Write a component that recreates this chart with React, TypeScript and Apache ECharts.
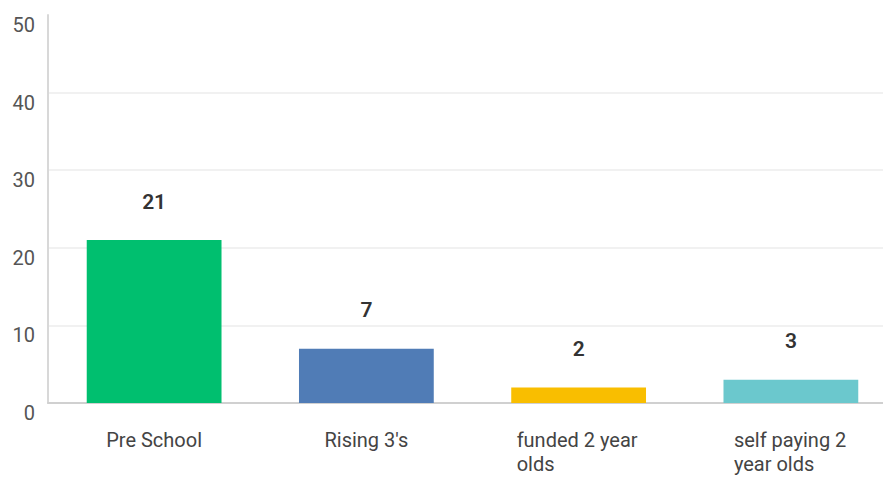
import React, { useEffect, useRef } from "react";
import * as echarts from "echarts";

const categories = ["Pre School", "Rising 3's", "funded 2 year olds", "self paying 2 year olds"];
const values = [21, 7, 2, 3];
const colors = ["#00BF6F", "#507CB6", "#F9BE00", "#6BC8CD"];
const yTicks = [0, 10, 20, 30, 40, 50];

export default function App() {
  const ref = useRef<HTMLDivElement>(null);
  useEffect(() => {
    const chart = echarts.init(ref.current!, null, { renderer: "svg" });
    const font = "Roboto, 'Noto Sans', sans-serif";
    chart.setOption({
      animation: false,
      grid: { left: 48, right: -14, top: 15, bottom: 74, outerBoundsMode: "none", containLabel: false },
      xAxis: {
        type: "category",
        data: categories,
        axisLine: { show: true, lineStyle: { color: "#d0d0d0", width: 2 } },
        axisTick: { show: false },
        axisLabel: {
          margin: 25,
          color: "#444",
          fontFamily: font,
          fontSize: 20,
          lineHeight: 24,
          interval: 0,
          formatter: (v: string) => {
            if (v === "funded 2 year olds") return "{f|funded 2 year}\n{f|olds}";
            if (v === "self paying 2 year olds") return "{s|self paying 2}\n{s|year olds}";
            return v;
          },
          rich: {
            f: { width: 124, align: "left", fontSize: 20, lineHeight: 24, color: "#444", fontFamily: font },
            s: { width: 114, align: "left", fontSize: 20, lineHeight: 24, color: "#444", fontFamily: font },
          },
        },
      },
      yAxis: {
        type: "value",
        min: 0,
        max: 50,
        interval: 10,
        axisLine: { show: true, lineStyle: { color: "#d8d8d8", width: 2 } },
        axisTick: { show: false },
        splitLine: { show: true, showMaxLine: false, lineStyle: { color: "#ececec", width: 1.5 } },
        axisLabel: {
          margin: 13,
          color: "#555",
          fontFamily: font,
          fontSize: 20,
          verticalAlign: "top",
          formatter: (v: number) => (yTicks.includes(v) ? String(v) : ""),
        },
      },
      series: [
        {
          type: "bar",
          data: values.map((v, i) => ({ value: v, itemStyle: { color: colors[i] } })),
          barWidth: "63.5%",
          label: {
            show: true,
            position: "top",
            distance: 28,
            color: "#333",
            fontFamily: font,
            fontSize: 21,
            fontWeight: 600,
          },
        },
      ],
    });
    return () => chart.dispose();
  }, []);
  return <div ref={ref} style={{ width: 883, height: 477, position: "absolute", left: 0, top: 0 }} />;
}
